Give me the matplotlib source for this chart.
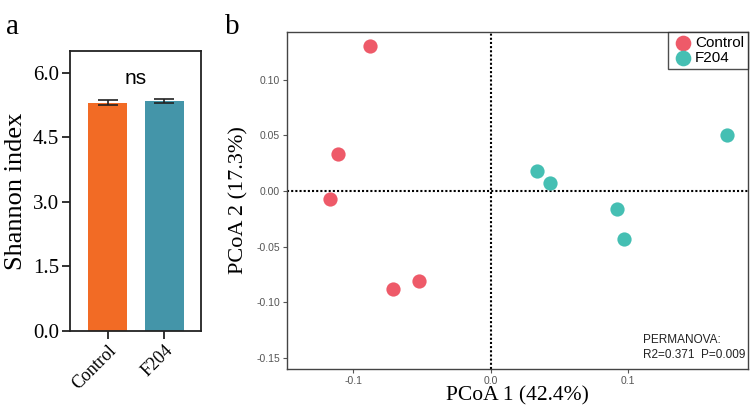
import matplotlib
matplotlib.use("Agg")
import matplotlib.pyplot as plt
import numpy as np

# Panel a data
groups = ["Control", "F204"]
shannon_mean = [5.30, 5.34]
shannon_err = [0.06, 0.04]
bar_colors = ["#F26B25", "#4495A9"]
a_yticks = [0.0, 1.5, 3.0, 4.5, 6.0]

# Panel b data
ctrl_x = [-0.088, -0.111, -0.117, -0.071, -0.052]
ctrl_y = [0.130, 0.033, -0.007, -0.088, -0.081]
f204_x = [0.034, 0.043, 0.172, 0.092, 0.097]
f204_y = [0.018, 0.0075, 0.050, -0.0165, -0.043]
b_xticks = [-0.1, 0.0, 0.1]
b_yticks = [-0.15, -0.10, -0.05, 0.00, 0.05, 0.10]
ctrl_color = "#EE5A69"
f204_color = "#45BFB3"

serif = ["Liberation Serif", "DejaVu Serif"]
sans = ["Liberation Sans", "DejaVu Sans"]

fig = plt.figure(figsize=(7.5, 4.05), dpi=100)

# ---- Panel a ----
axa = fig.add_axes([0.0933, 0.1827, 0.1747, 0.6914])
xpos = np.arange(len(groups))
axa.bar(xpos, shannon_mean, width=0.69, color=bar_colors, zorder=2)
axa.errorbar(xpos, shannon_mean, yerr=shannon_err, fmt="none", ecolor="#222222",
             elinewidth=1.2, capsize=7, capthick=1.2, zorder=3)
axa.set_xlim(-0.67, 1.65)
axa.set_ylim(0, 6.5)
axa.set_yticks(a_yticks)
axa.set_yticklabels([f"{v:.1f}" for v in a_yticks], fontfamily=serif, fontsize=15)
axa.set_xticks(xpos)
axa.set_xticklabels(groups, rotation=45, ha="right", rotation_mode="anchor",
                    fontfamily=serif, fontsize=13)
axa.set_ylabel("Shannon index", fontfamily=serif, fontsize=19, labelpad=4)
for s in axa.spines.values():
    s.set_linewidth(1.3)
    s.set_color("#222222")
axa.tick_params(axis="both", length=6, width=1.3, color="#222222", pad=2)
axa.text(0.5, 5.87, "ns", ha="center", va="center", fontfamily=sans, fontsize=15)

# ---- Panel b ----
axb = fig.add_axes([0.3827, 0.0889, 0.6147, 0.832])
axb.axhline(0, color="black", linestyle=(0, (1, 1)), linewidth=1.5, zorder=1)
axb.axvline(0, color="black", linestyle=(0, (1, 1)), linewidth=1.5, zorder=1)
axb.scatter(ctrl_x, ctrl_y, s=105, color=ctrl_color, label="Control", zorder=3, linewidths=0)
axb.scatter(f204_x, f204_y, s=105, color=f204_color, label="F204", zorder=3, linewidths=0)
axb.set_xlim(-0.148, 0.187)
axb.set_ylim(-0.160, 0.143)
axb.set_xticks(b_xticks)
axb.set_xticklabels(["-0.1", "0.0", "0.1"], fontfamily=sans, fontsize=7.5, color="#555555")
axb.set_yticks(b_yticks)
axb.set_yticklabels([f"{v:.2f}" for v in b_yticks], fontfamily=sans, fontsize=7.5, color="#555555")
axb.tick_params(axis="both", length=3, width=0.8, color="#555555", pad=2)
for s in axb.spines.values():
    s.set_linewidth(1.0)
    s.set_color("#444444")
axb.set_xlabel("PCoA 1 (42.4%)", fontfamily=serif, fontsize=15.5, labelpad=0)
axb.set_ylabel("PCoA 2 (17.3%)", fontfamily=serif, fontsize=16, labelpad=6)
leg = axb.legend(loc="upper right", frameon=True, fancybox=False, edgecolor="#222222",
                 prop={"family": sans, "size": 11}, handletextpad=0.1,
                 borderpad=0.25, borderaxespad=0, labelspacing=0.1,
                 markerscale=1.1, handlelength=1.4)
leg.get_frame().set_linewidth(1.0)
axb.text(0.772, 0.025, "PERMANOVA:\nR2=0.371  P=0.009", transform=axb.transAxes,
         ha="left", va="bottom", fontfamily=sans, fontsize=8.5, color="#222222",
         linespacing=1.25)

fig.text(0.008, 0.965, "a", fontfamily=serif, fontsize=21, va="top")
fig.text(0.300, 0.965, "b", fontfamily=serif, fontsize=21, va="top")

fig.savefig("out.png", dpi=100)
